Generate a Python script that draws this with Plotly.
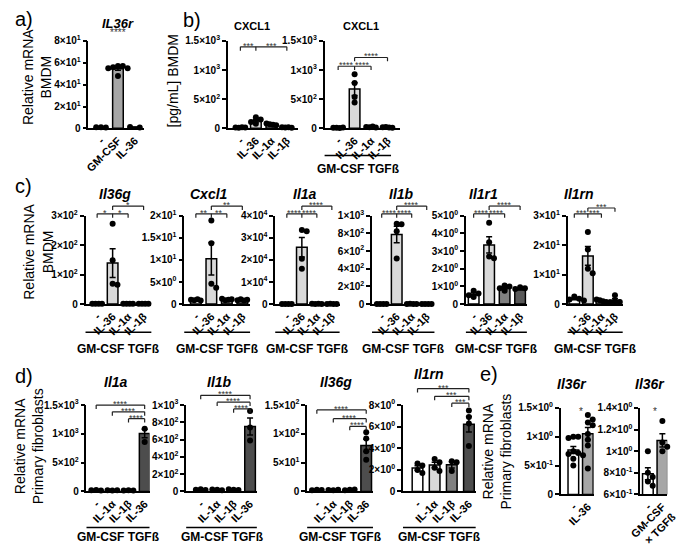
import math
import numpy as np
import plotly.graph_objects as go

W, H = 685, 550
FONT = "Liberation Sans, Arial, sans-serif"

# ---------------- data ----------------
a_categories = ["-", "GM-CSF", "IL-36"]
a_il36r = [[1.0, 1.1, 0.9], [57, 57, 56, 55, 55, 48], [1.2, 0.8]]
a_yticks = [0, 20, 40, 60, 80]

b_categories = ["-", "IL-36", "IL-1α", "IL-1β"]
b_cxcl1 = [[15, 12, 18, 14], [190, 150, 110, 80], [85, 72, 60, 55], [18, 15, 20, 12]]
b_cxcl1_gmcsf_tgfb = [[10, 12, 8, 15], [930, 780, 540, 445], [25, 20, 30, 15], [20, 25, 15, 10]]
b_yticks = [0, 500, 1000, 1500]

c_categories = ["-", "IL-36", "IL-1α", "IL-1β"]
c_il36g = [[1.0, 1.2, 0.9, 0.8], [273, 149, 69, 66], [1.1, 0.9, 1.3, 1.0], [0.9, 1.0, 1.2, 0.8]]
c_cxcl1 = [[1.0, 0.9, 1.1, 0.8], [18.9, 13.8, 4.6, 3.7], [1.2, 0.9, 1.0, 1.1], [0.9, 1.1, 0.8, 1.0]]
c_il1a = [[1, 1, 1, 1], [33500, 33000, 20500, 16000], [120, 90, 150, 100], [80, 110, 95, 70]]
c_il1b = [[1.0, 1.2, 0.9, 1.1], [905, 910, 825, 515], [2.5, 3.1, 2.2, 1.8], [1.5, 2.0, 1.2, 1.8]]
c_il1r1 = [[0.75, 0.6, 0.5, 0.4], [4.6, 3.5, 2.7, 2.6], [1.05, 1.0, 0.9, 0.75], [0.95, 0.9, 0.85, 0.7]]
c_il1rn = [[2.6, 1.8, 1.2, 1.6], [24.5, 18.5, 12.0, 10.5], [1.6, 1.3, 1.0, 0.7], [3.0, 1.0, 0.7, 0.6]]
c_il36g_yticks = [0, 100, 200, 300]
c_cxcl1_yticks = [0, 5, 10, 15, 20]
c_il1a_yticks = [0, 10000, 20000, 30000, 40000]
c_il1b_yticks = [0, 200, 400, 600, 800, 1000]
c_il1r1_yticks = [0, 1, 2, 3, 4, 5]
c_il1rn_yticks = [0, 10, 20, 30]

d_categories = ["-", "IL-1α", "IL-1β", "IL-36"]
d_il1a = [[20, 25, 18], [22, 18, 20], [15, 20, 18], [1090, 1070, 860]]
d_il1b = [[20, 25, 18], [22, 20, 15], [25, 20, 18], [930, 740, 590]]
d_il36g = [[2.0, 3.0, 2.5], [2.5, 2.0, 3.0], [2.0, 3.0, 3.5], [103, 92, 70, 55]]
d_il1rn = [[2.6, 2.4, 2.0, 1.7], [3.0, 2.7, 2.2, 1.9], [2.8, 2.7, 1.9], [7.5, 6.9, 6.3, 4.2]]
d_il1a_yticks = [0, 500, 1000, 1500]
d_il1b_yticks = [0, 200, 400, 600, 800, 1000]
d_il36g_yticks = [0, 50, 100, 150]
d_il1rn_yticks = [0, 2, 4, 6, 8]

e1_categories = ["-", "IL-36"]
e1_il36r = [[1.0, 1.0, 0.98, 0.75, 0.72, 0.7, 0.68, 0.62, 0.5],
            [1.38, 1.3, 1.25, 1.2, 1.05, 0.95, 0.85, 0.45]]
e1_yticks = [0, 0.5, 1.0, 1.5]
e2_categories = ["-", "GM-CSF<br>× TGFß"]
e2_il36r = [[1.0, 0.8, 0.76, 0.72, 0.68], [1.28, 1.08, 1.04, 1.0]]
e2_yticks = [0.6, 0.8, 1.0, 1.2, 1.4]

# ---------------- styles ----------------
WHITE = "#ffffff"; LIGHT = "#d9d9d9"; MID = "#a6a6a6"; GRAY = "#808080"; DARK = "#595959"; DARKER = "#4d4d4d"
c_colors = [WHITE, LIGHT, GRAY, DARK]
d_colors = [WHITE, WHITE, WHITE, DARKER]

GROUP = "GM-CSF TGFß"
TS = 14  # italic gene title size

panels = [
    dict(cats=a_categories, data=a_il36r, colors=[WHITE, MID, WHITE], yticks=a_yticks,
         x0=80, off=13, step=17.5, pad=9, ytop=35, ybot=125,
         title=("<b><i>IL36r</i></b>", 111, 17, 13), stars=[(1, 28, "****")]),
    dict(cats=b_categories, data=b_cxcl1, colors=c_colors, yticks=b_yticks,
         x0=224, off=13, step=16, pad=12, ytop=35, ybot=125,
         title=("<b>CXCL1</b>", 249, 20, 11),
         brackets=[([0, 1, 3], 41, ["***", "***"])]),
    dict(cats=b_categories, data=b_cxcl1_gmcsf_tgfb, colors=c_colors, yticks=b_yticks,
         x0=324, off=14, step=17, pad=13, ytop=35, ybot=125,
         title=("<b>CXCL1</b>", 362, 20, 11),
         brackets=[([0, 1, 2], 61, ["****", "****"]), ([1, 3], 52, ["****"])],
         group=(153, 167, 0.88)),
    dict(cats=c_categories, data=c_il36g, colors=c_colors, yticks=c_il36g_yticks,
         x0=77, off=12, step=16, pad=8, ytop=215, ybot=306,
         title=("<b><i>Il36g</i></b>", 107, 193, TS),
         brackets=[([0, 1, 2], 213, ["*", "*"]), ([1, 3], 205, ["*"])], group=(335, 352, 1.0)),
    dict(cats=c_categories, data=c_cxcl1, colors=c_colors, yticks=c_cxcl1_yticks,
         x0=179, off=12, step=16, pad=8, ytop=215, ybot=306,
         title=("<b><i>Cxcl1</i></b>", 205, 193, TS),
         brackets=[([0, 1, 2], 213, ["**", "**"]), ([1, 3], 205, ["**"])], group=(335, 352, 1.0)),
    dict(cats=c_categories, data=c_il1a, colors=c_colors, yticks=c_il1a_yticks,
         x0=273, off=12, step=15.5, pad=8, ytop=215, ybot=306,
         title=("<b><i>Il1a</i></b>", 304, 193, TS),
         brackets=[([0, 1, 2], 213, ["****", "****"]), ([1, 3], 205, ["****"])], group=(335, 352, 1.0)),
    dict(cats=c_categories, data=c_il1b, colors=c_colors, yticks=c_il1b_yticks,
         x0=373, off=10, step=15.5, pad=8, ytop=215, ybot=306,
         title=("<b><i>Il1b</i></b>", 403, 193, TS),
         brackets=[([0, 1, 2], 213, ["****", "****"]), ([1, 3], 205, ["****"])], group=(335, 352, 1.0)),
    dict(cats=c_categories, data=c_il1r1, colors=c_colors, yticks=c_il1r1_yticks,
         x0=470, off=8, step=16, pad=7, ytop=215, ybot=306,
         title=("<b><i>Il1r1</i></b>", 488, 193, TS),
         brackets=[([0, 1, 2], 213, ["****", "****"]), ([1, 3], 205, ["****"])], group=(335, 352, 1.0)),
    dict(cats=c_categories, data=c_il1rn, colors=c_colors, yticks=c_il1rn_yticks,
         x0=575, off=7, step=14, pad=8, ytop=215, ybot=306,
         title=("<b><i>Il1rn</i></b>", 587, 193, TS),
         brackets=[([0, 1, 2], 213, ["***", "***"]), ([1, 3], 207, ["***"])], group=(335, 352, 1.0)),
    dict(cats=d_categories, data=d_il1a, colors=d_colors, yticks=d_il1a_yticks,
         x0=78, off=10, step=16.7, pad=5, ytop=410, ybot=499,
         title=("<b><i>Il1a</i></b>", 108, 386, TS),
         brackets=[([0, 3], 410, ["****"]), ([1, 3], 417, ["****"]), ([2, 3], 424, ["****"])],
         group=(536, 546, 1.0)),
    dict(cats=d_categories, data=d_il1b, colors=d_colors, yticks=d_il1b_yticks,
         x0=181, off=15, step=17, pad=7, ytop=410, ybot=499,
         title=("<b><i>Il1b</i></b>", 215, 386, TS),
         brackets=[([0, 3], 400, ["****"]), ([1, 3], 407, ["****"]), ([2, 3], 414, ["****"])],
         group=(536, 546, 1.0)),
    dict(cats=d_categories, data=d_il36g, colors=d_colors, yticks=d_il36g_yticks,
         x0=306, off=10, step=17, pad=7, ytop=410, ybot=499,
         title=("<b><i>Il36g</i></b>", 336, 386, TS),
         brackets=[([0, 3], 415, ["****"]), ([1, 3], 424, ["****"]), ([2, 3], 432, ["****"])],
         group=(536, 546, 1.0)),
    dict(cats=d_categories, data=d_il1rn, colors=[WHITE, LIGHT, GRAY, DARKER], yticks=d_il1rn_yticks,
         x0=405, off=15, step=17.7, pad=7, ytop=410, ybot=499,
         title=("<b><i>Il1rn</i></b>", 432, 378, TS),
         brackets=[([0, 3], 393, ["***"]), ([1, 3], 401, ["***"]), ([2, 3], 408, ["***"])],
         group=(536, 546, 1.0)),
    dict(cats=e1_categories, data=e1_il36r, colors=[WHITE, MID], yticks=e1_yticks,
         x0=568, off=13, step=15, pad=6, ytop=413, ybot=502,
         title=("<b><i>Il36r</i></b>", 580, 388, TS), stars=[(0.5, 418, "*")]),
    dict(cats=e2_categories, data=e2_il36r, colors=[WHITE, MID], yticks=e2_yticks,
         x0=650, off=8, step=15, pad=5, ytop=413, ybot=502,
         title=("<b><i>Il36r</i></b>", 660, 388, TS), stars=[(0.5, 418, "*")]),
]

letters = [("a)", 2, 12), ("b)", 176, 13), ("c)", 2, 184), ("d)", 2, 380), ("e)", 483, 378)]
ytitles = [("Relative mRNA<br>BMDM", 27, 72), ("[pg/mL] BMDM", 167, 76),
           ("Relative mRNA<br>BMDM", 28, 252), ("Relative mRNA<br>Primary fibroblasts", 18, 452),
           ("Relative mRNA<br>Primary fibroblasts", 502, 458)]


def sci(v):
    if v == 0:
        return "<b>0</b>"
    e = int(math.floor(math.log10(abs(v)) + 1e-9))
    m = round(v / 10 ** e, 6)
    return f"<b>{m:g}×10<sup>{e}</sup></b>"


def swarm(vals, yspan, hpx, step):
    n = len(vals)
    ypx = [v / yspan * hpx for v in vals]
    if n == 1:
        return [0.0]
    if max(ypx) - min(ypx) < 4:
        return list(np.linspace(-5, 5, n) / step)
    order = np.argsort(ypx)[::-1]
    offs = [0.0] * n
    placed = []
    for idx in order:
        chosen = 0
        for c in [0, 5, -5, 10, -10]:
            if all(abs(c - o) >= 5 or abs(ypx[idx] - py) >= 5 for py, o in placed):
                chosen = c
                break
        offs[idx] = chosen / step
        placed.append((ypx[idx], chosen))
    return offs


fig = go.Figure()
shapes, anns, layout = [], [], {}
LINE = dict(color="black", width=1.5)
STAR_SHIFT = -6

for i, p in enumerate(panels, start=1):
    xa = "x" if i == 1 else f"x{i}"
    ya = "y" if i == 1 else f"y{i}"
    n = len(p["cats"])
    lo = -p["off"] / p["step"]
    x1px = p["x0"] + p["off"] + (n - 1) * p["step"] + p["pad"]
    hi = lo + (x1px - p["x0"]) / p["step"]
    ymin, ymax = p["yticks"][0], p["yticks"][-1]
    hpx = p["ybot"] - p["ytop"]
    means = [float(np.mean(g)) for g in p["data"]]
    sems = [float(np.std(g, ddof=1) / math.sqrt(len(g))) if len(g) > 1 else 0.0 for g in p["data"]]
    fig.add_trace(go.Bar(x=list(range(n)), y=means, width=11 / p["step"],
                         marker=dict(color=p["colors"], line=LINE),
                         error_y=dict(type="data", array=sems, visible=True, color="black",
                                      thickness=1.5, width=3),
                         xaxis=xa, yaxis=ya))
    xs, ys = [], []
    for k, g in enumerate(p["data"]):
        offs = swarm(g, ymax - ymin, hpx, p["step"])
        xs += [k + o for o in offs]
        ys += list(g)
    fig.add_trace(go.Scatter(x=xs, y=ys, mode="markers", cliponaxis=False,
                             marker=dict(color="black", size=6), xaxis=xa, yaxis=ya))
    xkey = "xaxis" if i == 1 else f"xaxis{i}"
    ykey = "yaxis" if i == 1 else f"yaxis{i}"
    layout[xkey] = dict(domain=[p["x0"] / W, x1px / W], range=[lo, hi], anchor=ya,
                        showline=True, linecolor="black", linewidth=1.5, ticks="",
                        tickvals=list(range(n)), ticktext=[f"<b>{c}</b>" for c in p["cats"]],
                        tickangle=-45, tickfont=dict(size=11, color="black", family=FONT),
                        ticklabeloverflow="allow",
                        showgrid=False, zeroline=False, fixedrange=True)
    layout[ykey] = dict(domain=[1 - p["ybot"] / H, 1 - p["ytop"] / H], range=[ymin, ymax], anchor=xa,
                        showline=True, linecolor="black", linewidth=1.5, ticks="outside",
                        ticklen=4, tickwidth=1.5, tickcolor="black",
                        tickvals=p["yticks"], ticktext=[sci(v) for v in p["yticks"]],
                        tickfont=dict(size=10, color="black", family=FONT),
                        showgrid=False, zeroline=False, fixedrange=True)
    t, tx, ty, ts = p["title"]
    anns.append(dict(text=t, x=tx / W, y=1 - ty / H, xref="paper", yref="paper", showarrow=False,
                     xanchor="center", yanchor="middle", font=dict(size=ts, color="black", family=FONT)))
    ydom = ya + " domain"
    for pos, lvl, labs in p.get("brackets", []):
        fy = (p["ybot"] - lvl) / hpx
        tick = 4 / hpx
        shapes.append(dict(type="line", xref=xa, yref=ydom, x0=pos[0], x1=pos[-1], y0=fy, y1=fy,
                           line=dict(color="#222222", width=1.2)))
        for xp in pos:
            shapes.append(dict(type="line", xref=xa, yref=ydom, x0=xp, x1=xp, y0=fy, y1=fy - tick,
                               line=dict(color="#222222", width=1.2)))
        for k, lab in enumerate(labs):
            anns.append(dict(text=lab, xref=xa, yref=ydom, x=(pos[k] + pos[k + 1]) / 2, y=fy,
                             showarrow=False, xanchor="center", yanchor="bottom", yshift=STAR_SHIFT,
                             font=dict(size=9, color="#333333", family=FONT)))
    for sx, sy, lab in p.get("stars", []):
        fy = (p["ybot"] - sy) / hpx
        anns.append(dict(text=lab, xref=xa, yref=ydom, x=sx, y=fy, showarrow=False,
                         xanchor="center", yanchor="bottom", yshift=STAR_SHIFT,
                         font=dict(size=10, color="#333333", family=FONT)))
    if "group" in p:
        gy, gty, gfrac = p["group"]
        gx1 = p["x0"] + (x1px - p["x0"]) * gfrac
        shapes.append(dict(type="line", xref="paper", yref="paper", x0=p["x0"] / W, x1=gx1 / W,
                           y0=1 - gy / H, y1=1 - gy / H, line=LINE))
        anns.append(dict(text=f"<b>{GROUP}</b>", xref="paper", yref="paper",
                         x=(p["x0"] + gx1) / 2 / W, y=1 - gty / H, showarrow=False,
                         xanchor="center", yanchor="middle",
                         font=dict(size=12, color="black", family=FONT)))

for t, lx, ly in letters:
    anns.append(dict(text=t, x=lx / W, y=1 - ly / H, xref="paper", yref="paper", showarrow=False,
                     xanchor="left", yanchor="middle", font=dict(size=20, color="black", family=FONT)))
for t, lx, ly in ytitles:
    anns.append(dict(text=t, x=lx / W, y=1 - ly / H, xref="paper", yref="paper", showarrow=False,
                     textangle=-90, xanchor="center", yanchor="middle",
                     font=dict(size=14, color="black", family=FONT)))

fig.update_layout(width=W, height=H, margin=dict(l=0, r=0, t=0, b=0),
                  paper_bgcolor="white", plot_bgcolor="white", showlegend=False,
                  hovermode=False, shapes=shapes, annotations=anns,
                  font=dict(family=FONT, color="black"), **layout)
fig.write_html("out.html", config={"displayModeBar": False},
               post_script="document.body.style.margin='0px';document.body.style.padding='0px';")
